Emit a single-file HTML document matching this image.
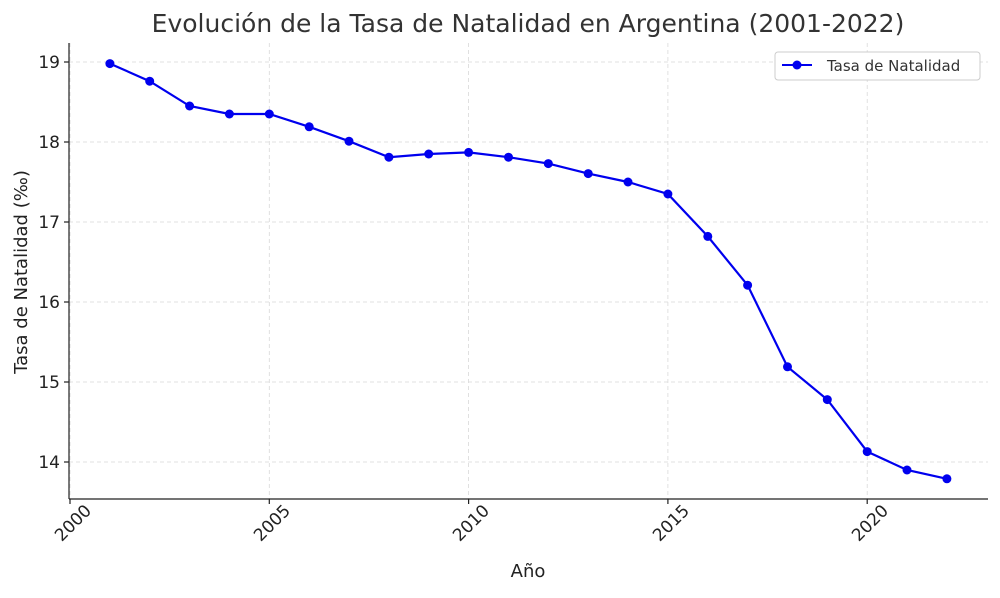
<!DOCTYPE html>
<html><head><meta charset="utf-8"><style>html,body{margin:0;background:#fff}</style></head><body>
<svg width="1000" height="593" xmlns="http://www.w3.org/2000/svg" font-family="DejaVu Sans, Liberation Sans, sans-serif">
<rect width="1000" height="593" fill="#fff"/>
<g stroke="#d9d9d9" stroke-dasharray="4,3" stroke-width="0.8">
<line x1="70" y1="43" x2="70" y2="499"/><line x1="269.3" y1="43" x2="269.3" y2="499"/><line x1="468.6" y1="43" x2="468.6" y2="499"/><line x1="667.9" y1="43" x2="667.9" y2="499"/><line x1="867.2" y1="43" x2="867.2" y2="499"/>
<line x1="69" y1="62" x2="988" y2="62"/><line x1="69" y1="142" x2="988" y2="142"/><line x1="69" y1="222" x2="988" y2="222"/><line x1="69" y1="302" x2="988" y2="302"/><line x1="69" y1="382" x2="988" y2="382"/><line x1="69" y1="462" x2="988" y2="462"/>
</g>
<g stroke="#222" stroke-width="1.2">
<line x1="69" y1="43" x2="69" y2="499"/><line x1="69" y1="499" x2="988" y2="499"/>
<line x1="64" y1="62" x2="69" y2="62"/><line x1="64" y1="142" x2="69" y2="142"/><line x1="64" y1="222" x2="69" y2="222"/><line x1="64" y1="302" x2="69" y2="302"/><line x1="64" y1="382" x2="69" y2="382"/><line x1="64" y1="462" x2="69" y2="462"/>
<line x1="70" y1="499" x2="70" y2="504"/><line x1="269.3" y1="499" x2="269.3" y2="504"/><line x1="468.6" y1="499" x2="468.6" y2="504"/><line x1="667.9" y1="499" x2="667.9" y2="504"/><line x1="867.2" y1="499" x2="867.2" y2="504"/>
</g>
<g font-size="17" fill="#222" text-anchor="end">
<text x="60" y="68">19</text><text x="60" y="148">18</text><text x="60" y="228">17</text><text x="60" y="308">16</text><text x="60" y="388">15</text><text x="60" y="468">14</text>
</g>
<g font-size="17" fill="#222" text-anchor="middle">
<text transform="translate(77,527) rotate(-45)">2000</text>
<text transform="translate(276,527) rotate(-45)">2005</text>
<text transform="translate(475,527) rotate(-45)">2010</text>
<text transform="translate(675,527) rotate(-45)">2015</text>
<text transform="translate(874,527) rotate(-45)">2020</text>
</g>
<text x="528" y="577" font-size="18" fill="#222" text-anchor="middle">Año</text>
<text transform="translate(27,272) rotate(-90)" font-size="18" fill="#222" text-anchor="middle">Tasa de Natalidad (‰)</text>
<text x="528" y="32" font-size="25" fill="#333" text-anchor="middle">Evolución de la Tasa de Natalidad en Argentina (2001-2022)</text>
<polyline fill="none" stroke="#0000ee" stroke-width="2.2" points="109.9,63.6 149.7,81.2 189.6,106 229.4,114 269.3,114 309.2,126.8 349,141.2 388.9,157.2 428.7,154 468.6,152.4 508.5,157.2 548.3,163.6 588.2,173.6 628,182 667.9,194 707.8,236.4 747.6,285.2 787.5,366.8 827.3,399.6 867.2,451.6 907,470 946.9,478.8"/>
<g fill="#0000ee">
<circle cx="109.9" cy="63.6" r="4.5"/><circle cx="149.7" cy="81.2" r="4.5"/><circle cx="189.6" cy="106" r="4.5"/><circle cx="229.4" cy="114" r="4.5"/><circle cx="269.3" cy="114" r="4.5"/><circle cx="309.2" cy="126.8" r="4.5"/><circle cx="349" cy="141.2" r="4.5"/><circle cx="388.9" cy="157.2" r="4.5"/><circle cx="428.7" cy="154" r="4.5"/><circle cx="468.6" cy="152.4" r="4.5"/><circle cx="508.5" cy="157.2" r="4.5"/><circle cx="548.3" cy="163.6" r="4.5"/><circle cx="588.2" cy="173.6" r="4.5"/><circle cx="628" cy="182" r="4.5"/><circle cx="667.9" cy="194" r="4.5"/><circle cx="707.8" cy="236.4" r="4.5"/><circle cx="747.6" cy="285.2" r="4.5"/><circle cx="787.5" cy="366.8" r="4.5"/><circle cx="827.3" cy="399.6" r="4.5"/><circle cx="867.2" cy="451.6" r="4.5"/><circle cx="907" cy="470" r="4.5"/><circle cx="946.9" cy="478.8" r="4.5"/>
</g>
<rect x="775" y="52" width="205" height="28" rx="3" fill="#fff" stroke="#ccc"/>
<line x1="782" y1="65" x2="812" y2="65" stroke="#0000ee" stroke-width="2"/>
<circle cx="797" cy="65" r="4.5" fill="#0000ee"/>
<text x="827" y="71" font-size="15" fill="#333">Tasa de Natalidad</text>
</svg>
</body></html>
